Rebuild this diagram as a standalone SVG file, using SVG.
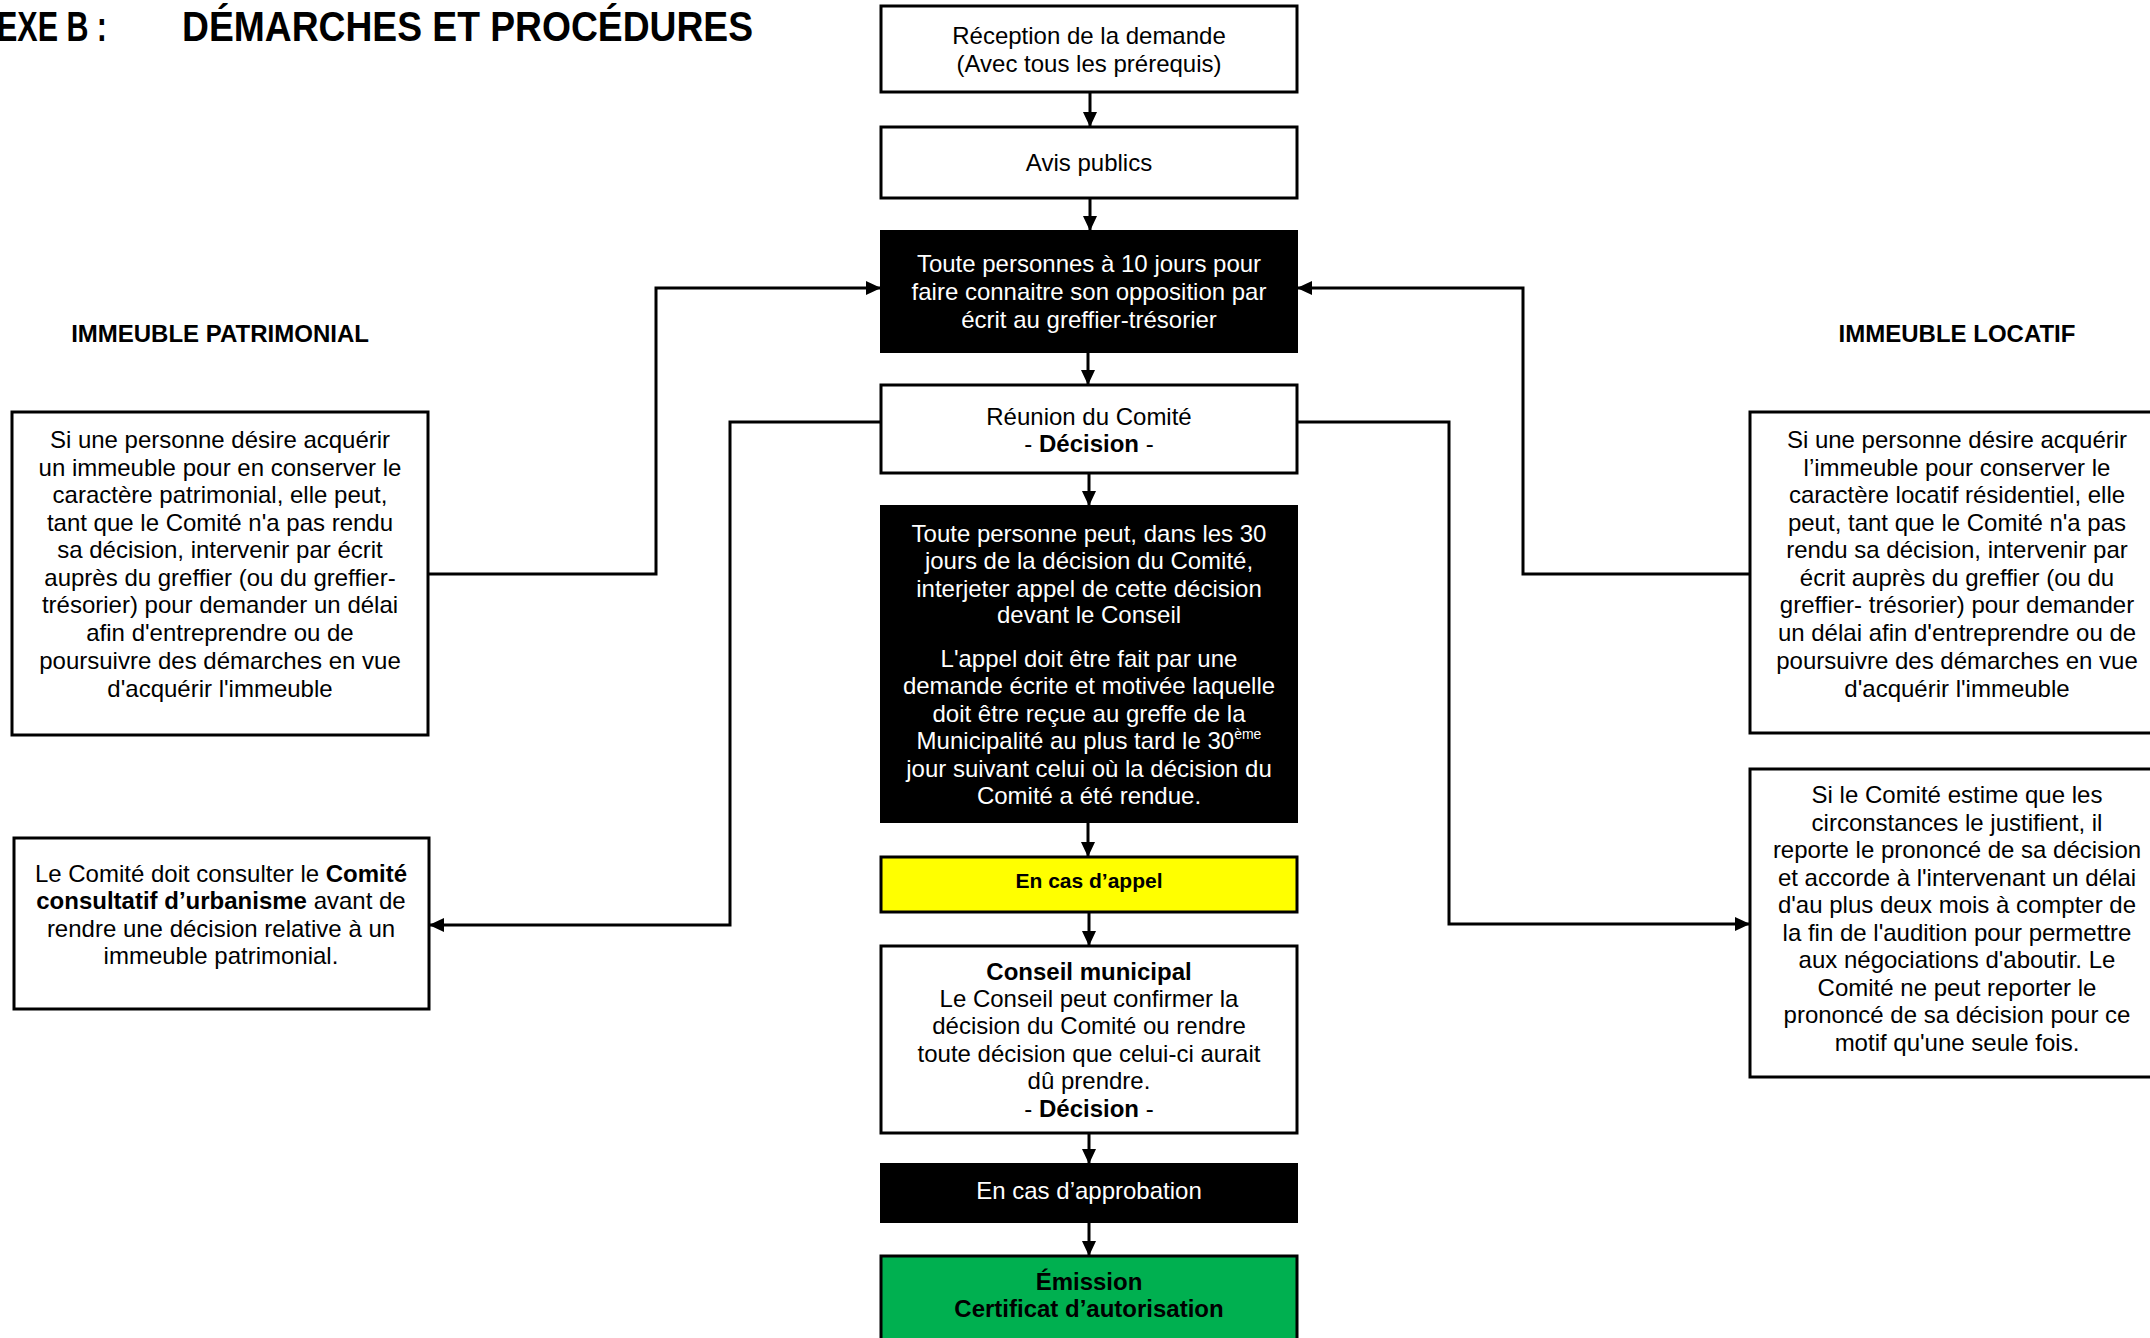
<svg xmlns="http://www.w3.org/2000/svg" width="2150" height="1338" viewBox="0 0 2150 1338">
<style>
text{font-family:"Liberation Sans",Arial,sans-serif;font-size:24px;fill:#000;text-anchor:middle}
.b{font-weight:bold}
.w{fill:#fff}
.box{fill:#fff;stroke:#000;stroke-width:3}
.blk{fill:#000;stroke:#000;stroke-width:2}
.con{fill:none;stroke:#000;stroke-width:3}
</style>
<defs>
<marker id="ah" viewBox="0 0 15 14" refX="15" refY="7" markerWidth="15" markerHeight="14" markerUnits="userSpaceOnUse" orient="auto">
<path d="M0,0 L15,7 L0,14 Z" fill="#000"/>
</marker>
</defs>
<rect width="2150" height="1338" fill="#fff"/>

<g id="title">
<text x="-3" y="41" class="b" style="font-size:42px;text-anchor:start" textLength="110" lengthAdjust="spacingAndGlyphs">EXE B :</text>
<text x="182" y="41" class="b" style="font-size:42px;text-anchor:start" textLength="571" lengthAdjust="spacingAndGlyphs">DÉMARCHES ET PROCÉDURES</text>
</g>

<g id="connectors">
<line class="con" x1="1090" y1="92" x2="1090" y2="127" marker-end="url(#ah)"/>
<line class="con" x1="1090" y1="198" x2="1090" y2="231" marker-end="url(#ah)"/>
<line class="con" x1="1088" y1="352" x2="1088" y2="385" marker-end="url(#ah)"/>
<line class="con" x1="1089" y1="473" x2="1089" y2="506" marker-end="url(#ah)"/>
<line class="con" x1="1088" y1="822" x2="1088" y2="857" marker-end="url(#ah)"/>
<line class="con" x1="1089" y1="912" x2="1089" y2="946" marker-end="url(#ah)"/>
<line class="con" x1="1089" y1="1133" x2="1089" y2="1164" marker-end="url(#ah)"/>
<line class="con" x1="1089" y1="1222" x2="1089" y2="1256" marker-end="url(#ah)"/>
<path class="con" d="M428,574 H656 V288 H881" marker-end="url(#ah)"/>
<path class="con" d="M1750,574 H1523 V288 H1297" marker-end="url(#ah)"/>
<path class="con" d="M881,422 H730 V925 H429" marker-end="url(#ah)"/>
<path class="con" d="M1297,422 H1449 V924 H1750" marker-end="url(#ah)"/>
</g>

<g id="reception">
<rect class="box" x="881" y="6" width="416" height="86"/>
<text x="1089" y="44">Réception de la demande</text>
<text x="1089" y="72">(Avec tous les prérequis)</text>
</g>

<g id="avis">
<rect class="box" x="881" y="127" width="416" height="71"/>
<text x="1089" y="171">Avis publics</text>
</g>

<g id="opposition">
<rect class="blk" x="881" y="231" width="416" height="121"/>
<text class="w" x="1089" y="272">Toute personnes à 10 jours pour</text>
<text class="w" x="1089" y="300">faire connaitre son opposition par</text>
<text class="w" x="1089" y="328">écrit au greffier-trésorier</text>
</g>

<g id="reunion">
<rect class="box" x="881" y="385" width="416" height="88"/>
<text x="1089" y="425">Réunion du Comité</text>
<text x="1089" y="452">- <tspan class="b">Décision</tspan> -</text>
</g>

<g id="appel-info">
<rect class="blk" x="881" y="506" width="416" height="316"/>
<text class="w" x="1089" y="542">Toute personne peut, dans les 30</text>
<text class="w" x="1089" y="569">jours de la décision du Comité,</text>
<text class="w" x="1089" y="597">interjeter appel de cette décision</text>
<text class="w" x="1089" y="623">devant le Conseil</text>
<text class="w" x="1089" y="667">L'appel doit être fait par une</text>
<text class="w" x="1089" y="694">demande écrite et motivée laquelle</text>
<text class="w" x="1089" y="722">doit être reçue au greffe de la</text>
<text class="w" x="1089" y="749">Municipalité au plus tard le 30<tspan dy="-10" style="font-size:14px">ème</tspan></text>
<text class="w" x="1089" y="777">jour suivant celui où la décision du</text>
<text class="w" x="1089" y="804">Comité a été rendue.</text>
</g>

<g id="en-cas-appel">
<rect x="881" y="857" width="416" height="55" fill="#ffff00" stroke="#000" stroke-width="3"/>
<text class="b" x="1089" y="888" style="font-size:21px">En cas d’appel</text>
</g>

<g id="conseil">
<rect class="box" x="881" y="946" width="416" height="187"/>
<text class="b" x="1089" y="980">Conseil municipal</text>
<text x="1089" y="1007">Le Conseil peut confirmer la</text>
<text x="1089" y="1034">décision du Comité ou rendre</text>
<text x="1089" y="1062">toute décision que celui-ci aurait</text>
<text x="1089" y="1089">dû prendre.</text>
<text x="1089" y="1117">- <tspan class="b">Décision</tspan> -</text>
</g>

<g id="approbation">
<rect class="blk" x="881" y="1164" width="416" height="58"/>
<text class="w" x="1089" y="1199">En cas d’approbation</text>
</g>

<g id="emission">
<rect x="881" y="1256" width="416" height="100" fill="#00b050" stroke="#000" stroke-width="3"/>
<text class="b" x="1089" y="1290">Émission</text>
<text class="b" x="1089" y="1317">Certificat d’autorisation</text>
</g>

<g id="patrimonial-title">
<text class="b" x="220" y="342">IMMEUBLE PATRIMONIAL</text>
</g>

<g id="patrimonial-box">
<rect class="box" x="12" y="412" width="416" height="323"/>
<text x="220" y="448">Si une personne désire acquérir</text>
<text x="220" y="476">un immeuble pour en conserver le</text>
<text x="220" y="503">caractère patrimonial, elle peut,</text>
<text x="220" y="531">tant que le Comité n'a pas rendu</text>
<text x="220" y="558">sa décision, intervenir par écrit</text>
<text x="220" y="586">auprès du greffier (ou du greffier-</text>
<text x="220" y="613">trésorier) pour demander un délai</text>
<text x="220" y="641">afin d'entreprendre ou de</text>
<text x="220" y="669">poursuivre des démarches en vue</text>
<text x="220" y="697">d'acquérir l'immeuble</text>
</g>

<g id="ccu-box">
<rect class="box" x="14" y="838" width="415" height="171"/>
<text x="221" y="882">Le Comité doit consulter le <tspan class="b">Comité</tspan></text>
<text x="221" y="909"><tspan class="b">consultatif d’urbanisme</tspan> avant de</text>
<text x="221" y="937">rendre une décision relative à un</text>
<text x="221" y="964">immeuble patrimonial.</text>
</g>

<g id="locatif-title">
<text class="b" x="1957" y="342">IMMEUBLE LOCATIF</text>
</g>

<g id="locatif-box">
<rect class="box" x="1750" y="412" width="416" height="321"/>
<text x="1957" y="448">Si une personne désire acquérir</text>
<text x="1957" y="476">l’immeuble pour conserver le</text>
<text x="1957" y="503">caractère locatif résidentiel, elle</text>
<text x="1957" y="531">peut, tant que le Comité n'a pas</text>
<text x="1957" y="558">rendu sa décision, intervenir par</text>
<text x="1957" y="586">écrit auprès du greffier (ou du</text>
<text x="1957" y="613">greffier- trésorier) pour demander</text>
<text x="1957" y="641">un délai afin d'entreprendre ou de</text>
<text x="1957" y="669">poursuivre des démarches en vue</text>
<text x="1957" y="697">d'acquérir l'immeuble</text>
</g>

<g id="report-box">
<rect class="box" x="1750" y="769" width="416" height="308"/>
<text x="1957" y="803">Si le Comité estime que les</text>
<text x="1957" y="831">circonstances le justifient, il</text>
<text x="1957" y="858">reporte le prononcé de sa décision</text>
<text x="1957" y="886">et accorde à l'intervenant un délai</text>
<text x="1957" y="913">d'au plus deux mois à compter de</text>
<text x="1957" y="941">la fin de l'audition pour permettre</text>
<text x="1957" y="968">aux négociations d'aboutir. Le</text>
<text x="1957" y="996">Comité ne peut reporter le</text>
<text x="1957" y="1023">prononcé de sa décision pour ce</text>
<text x="1957" y="1051">motif qu'une seule fois.</text>
</g>
</svg>
